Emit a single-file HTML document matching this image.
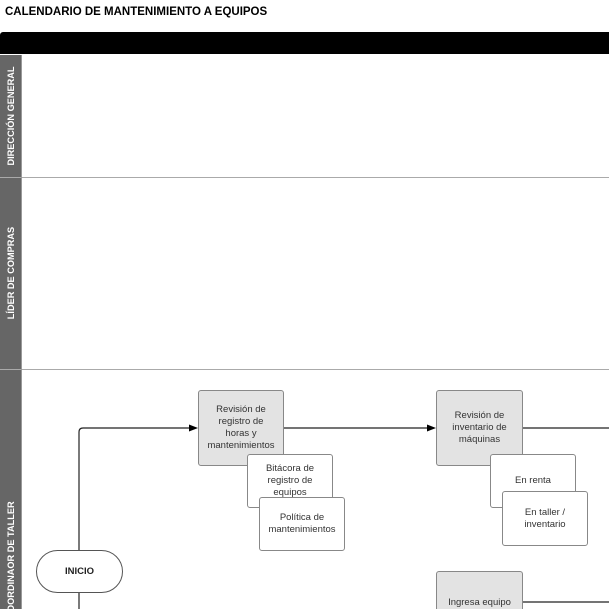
<!DOCTYPE html>
<html style="overflow:hidden;width:609px;height:609px"><head><meta charset="utf-8"><style>
body{margin:0;width:609px;height:609px;overflow:hidden;background:#fff;font-family:"Liberation Sans",sans-serif;position:relative}
.a{position:absolute}
.lbl{position:absolute;color:#fff;font-weight:bold;font-size:9.2px;white-space:nowrap;transform:translate(-50%,-50%) rotate(-90deg)}
.box{position:absolute;border:1px solid #888;border-radius:3px;box-sizing:border-box;display:flex;align-items:center;justify-content:center;text-align:center;font-size:9.5px;color:#333;line-height:12px;background:#fff}
.g{background:#e3e3e3}
</style></head><body>
<div class="a" style="left:5px;top:6px;font-size:11.5px;font-weight:bold;color:#000">CALENDARIO DE MANTENIMIENTO A EQUIPOS</div>
<div class="a" style="left:0;top:32px;width:609px;height:22px;background:#000;border-radius:3px 0 0 0"></div>
<div class="a" style="left:0;top:55px;width:21px;height:554px;background:#666"></div>
<div class="a" style="left:0;top:177px;width:609px;height:1px;background:#aaa"></div>
<div class="a" style="left:0;top:369px;width:609px;height:1px;background:#aaa"></div>
<div class="a" style="left:21px;top:55px;width:1px;height:554px;background:#999"></div>
<div class="lbl" style="left:11px;top:116px">DIRECCIÓN GENERAL</div>
<div class="lbl" style="left:11px;top:273px">LÍDER DE COMPRAS</div>
<div class="lbl" style="left:11px;top:560px">COORDINAOR DE TALLER</div>
<svg class="a" style="left:0;top:0" width="609" height="609">
<g stroke="#222" stroke-width="1.2" fill="none">
<path d="M79 550 V432 Q79 428 83 428 H192"/>
<path d="M283 428 H430"/>
<path d="M522 428 H609"/>
<path d="M79 592 V609"/>
<path d="M522 602 H609"/>
</g>
<path d="M198 428 l-9 -3.5 v7z" fill="#000"/>
<path d="M436 428 l-9 -3.5 v7z" fill="#000"/>
</svg>
<div class="box g" style="left:198px;top:390px;width:86px;height:76px">Revisión de<br>registro de<br>horas y<br>mantenimientos</div>
<div class="box" style="left:247px;top:454px;width:86px;height:54px;align-items:flex-start;padding-top:8px">Bitácora de<br>registro de<br>equipos</div>
<div class="box" style="left:259px;top:497px;width:86px;height:54px">Política de<br>mantenimientos</div>
<div class="box g" style="left:436px;top:390px;width:87px;height:76px">Revisión de<br>inventario de<br>máquinas</div>
<div class="box" style="left:490px;top:454px;width:86px;height:54px;align-items:flex-start;padding-top:20px">En renta</div>
<div class="box" style="left:502px;top:491px;width:86px;height:55px">En taller /<br>inventario</div>
<div class="box g" style="left:436px;top:571px;width:87px;height:38px;border-bottom:none;border-radius:3px 3px 0 0;align-items:flex-start;padding-top:25px">Ingresa equipo</div>
<div class="box" style="left:36px;top:550px;width:87px;height:43px;border-radius:22px;border-color:#555;font-weight:bold;color:#222;font-size:9.5px">INICIO</div>
</body></html>
